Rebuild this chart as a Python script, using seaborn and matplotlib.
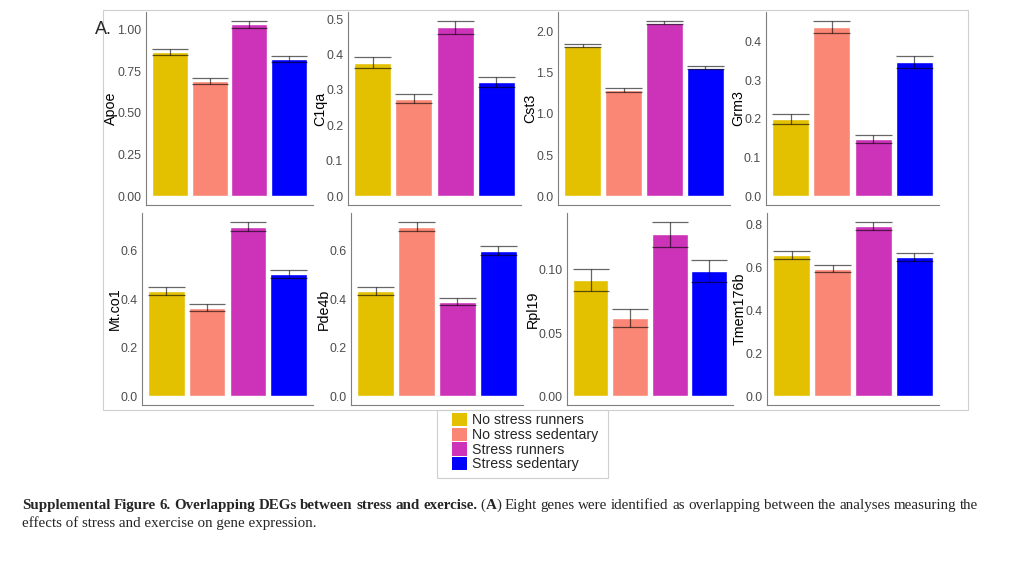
import numpy as np
import matplotlib
matplotlib.use("Agg")
import matplotlib.pyplot as plt
from matplotlib.patches import Patch, Rectangle
from matplotlib.ticker import MultipleLocator, FormatStrFormatter
import seaborn as sns

groups = ['No stress runners', 'No stress sedentary', 'Stress runners', 'Stress sedentary']
colors = ['#E3C000', '#FA8775', '#CC33B8', '#0000FF']

genes = ['Apoe', 'C1qa', 'Cst3', 'Grm3', 'Mt.co1', 'Pde4b', 'Rpl19', 'Tmem176b']

apoe = [0.865, 0.690, 1.030, 0.820]
apoe_se = [0.020, 0.018, 0.022, 0.018]
c1qa = [0.377, 0.275, 0.477, 0.322]
c1qa_se = [0.015, 0.012, 0.018, 0.014]
cst3 = [1.830, 1.290, 2.110, 1.560]
cst3_se = [0.022, 0.020, 0.022, 0.020]
grm3 = [0.200, 0.437, 0.148, 0.346]
grm3_se = [0.013, 0.016, 0.011, 0.016]
mtco1 = [0.435, 0.365, 0.700, 0.505]
mtco1_se = [0.016, 0.015, 0.020, 0.017]
pde4b = [0.435, 0.700, 0.390, 0.600]
pde4b_se = [0.016, 0.020, 0.015, 0.019]
rpl19 = [0.092, 0.062, 0.128, 0.099]
rpl19_se = [0.009, 0.007, 0.010, 0.009]
tmem176b = [0.660, 0.595, 0.795, 0.650]
tmem176b_se = [0.018, 0.016, 0.020, 0.017]

means = [apoe, c1qa, cst3, grm3, mtco1, pde4b, rpl19, tmem176b]
errs = [apoe_se, c1qa_se, cst3_se, grm3_se, mtco1_se, pde4b_se, rpl19_se, tmem176b_se]

# tick step / decimals per panel
steps = [0.25, 0.1, 0.5, 0.1, 0.2, 0.2, 0.05, 0.2]
decs = [2, 1, 1, 1, 1, 1, 2, 1]

# panel boxes in pixels: left, top, right, bottom
boxes = [(146, 12, 313, 205), (348, 12, 521, 205), (558, 12, 730, 205), (766, 12, 939, 205),
         (142, 213, 313, 405), (351, 213, 523, 405), (567, 213, 733, 405), (767, 213, 939, 405)]

W, H = 1024, 576
sns.set_style("white")
plt.rcParams['font.family'] = ['Liberation Sans', 'DejaVu Sans']

fig = plt.figure(figsize=(W / 100, H / 100), dpi=100)

# light grey frame around the panels
fig.patches.append(Rectangle((103 / W, 1 - 410 / H), (968 - 103) / W, 400 / H,
                             transform=fig.transFigure, fill=False,
                             edgecolor='#cfcfcf', linewidth=0.8))

axis_grey = '#7f7f7f'
for gene, m, e, st, dc, (l, t, r, b) in zip(genes, means, errs, steps, decs, boxes):
    ax = fig.add_axes([l / W, 1 - b / H, (r - l) / W, (b - t) / H])
    sns.barplot(x=groups, y=m, hue=groups, palette=colors, width=0.9,
                saturation=1, legend=False, ax=ax)
    x = np.arange(len(groups))
    m = np.array(m)
    e = np.array(e)
    ax.vlines(x, m - e, m + e, color='black', alpha=0.6, linewidth=0.9)
    ax.hlines(m + e, x - 0.45, x + 0.45, color='black', alpha=0.6, linewidth=0.9)
    ax.hlines(m - e, x - 0.45, x + 0.45, color='black', alpha=0.6, linewidth=0.9)
    top = (m + e).max()
    ax.set_ylim(-0.05 * top, 1.05 * top)
    ax.set_xlim(-0.6, 3.6)
    ax.yaxis.set_major_locator(MultipleLocator(st))
    ax.yaxis.set_major_formatter(FormatStrFormatter(f'%.{dc}f'))
    ax.set_xticks(x)
    ax.set_xticklabels([])
    ax.set_xlabel('')
    ax.set_ylabel(gene, fontsize=10.3, color='black', labelpad=-1)
    sns.despine(ax=ax)
    for s in ['left', 'bottom']:
        ax.spines[s].set_color(axis_grey)
        ax.spines[s].set_linewidth(0.8)
    ax.tick_params(axis='both', length=2.5, width=0.8, color=axis_grey,
                   labelcolor='#4d4d4d', labelsize=8.9, pad=1)

fig.text(95 / W, 1 - 29 / H, 'A.', fontsize=13, va='center', ha='left')

# legend, frame drawn separately
fig.patches.append(Rectangle((437 / W, 1 - 478 / H), (608 - 437) / W, 68 / H,
                             transform=fig.transFigure, fill=False,
                             edgecolor='#cfcfcf', linewidth=0.8))
handles = [Patch(facecolor=c, edgecolor='none') for c in colors]
fig.legend(handles, groups, loc='upper left',
           bbox_to_anchor=(452 / W, 1 - 413 / H), fontsize=10.2,
           frameon=False, handlelength=1.05, handleheight=1.05, labelspacing=0.02,
           handletextpad=0.35, borderpad=0, borderaxespad=0)

# caption: line 1 is justified, bold and regular pieces
serif = ['Liberation Serif', 'DejaVu Serif']
cap_size = 10.8
line1 = [[('Supplemental', True)], [('Figure', True)], [('6.', True)], [('Overlapping', True)],
         [('DEGs', True)], [('between', True)], [('stress', True)], [('and', True)],
         [('exercise.', True)], [('(', False), ('A', True), (')', False)]]
line1 += [[(w, False)] for w in 'Eight genes were identified as overlapping between the analyses measuring the'.split()]

renderer = fig.canvas.get_renderer()


def text_width(s, bold):
    tt = fig.text(0, 0, s, fontsize=cap_size, family=serif,
                  fontweight='bold' if bold else 'normal')
    w = tt.get_window_extent(renderer).width
    tt.remove()
    return w


words_w = sum(text_width(s, b) for word in line1 for s, b in word)
gaps = len(line1) - 1
gap = (978 - 22 - words_w) / gaps

prev = None
for i, word in enumerate(line1):
    for j, (s, b) in enumerate(word):
        kw = dict(fontsize=cap_size, family=serif, fontweight='bold' if b else 'normal')
        if prev is None:
            prev = fig.text(22 / W, 1 - 509 / H, s, va='baseline', ha='left', **kw)
        else:
            dx = gap if j == 0 else 0
            prev = fig.add_artist(matplotlib.text.Annotation(
                s, xy=(1, 0), xycoords=prev, xytext=(dx, 0), textcoords='offset pixels',
                va='bottom', ha='left', **kw))

fig.text(22 / W, 1 - 527 / H, 'effects of stress and exercise on gene expression.',
         fontsize=cap_size, family=serif, va='baseline')

fig.savefig('out.png', dpi=100)
